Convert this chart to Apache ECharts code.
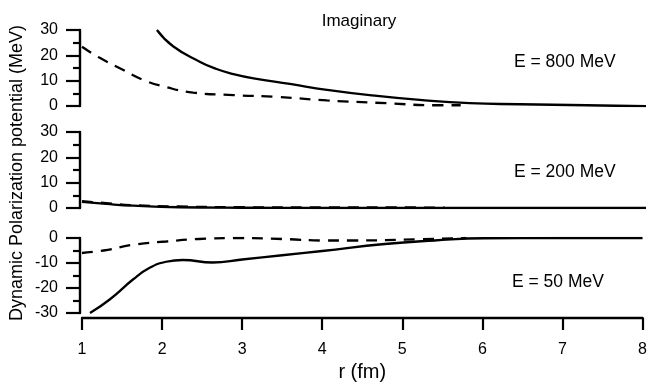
<!DOCTYPE html>
<html><head><meta charset="utf-8">
<script src="https://cdn.jsdelivr.net/npm/echarts@6/dist/echarts.min.js"></script>
<style>html,body{margin:0;padding:0;background:#fff}#c{width:650px;height:386px}</style>
</head><body><div id="c"></div>
<script>
const xTicks = [1, 2, 3, 4, 5, 6, 7, 8];
const yTicksPos = [0, 10, 20, 30];
const yTicksNeg = [-30, -20, -10, 0];

const r800Solid = [1.93, 2.13, 2.46, 2.67, 2.88, 3.13, 3.58, 4.04, 4.57, 5.19, 5.81, 6.43, 7.26, 8.0];
const v800Solid = [30, 23.6, 17.5, 14.6, 12.6, 10.9, 8.7, 6.4, 4.3, 2.4, 1.1, 0.7, 0.3, -0.1];
const r800Dash = [1.0, 1.22, 1.47, 1.76, 2.05, 2.38, 2.88, 3.42, 4.04, 4.78, 5.4, 5.7];
const v800Dash = [23.4, 19, 14.9, 10.3, 7.4, 5.3, 4.3, 3.6, 2.2, 1.1, 0.3, 0.3];

const r200Solid = [1.0, 1.3, 1.64, 2.2, 3.0, 4.0, 5.0, 6.0, 7.0, 8.0];
const v200Solid = [2.4, 1.6, 0.9, 0.3, 0.1, 0, 0, 0, 0, 0];
const r200Dash = [1.0, 1.3, 1.64, 2.2, 3.0, 4.0, 5.0, 5.5];
const v200Dash = [2.7, 1.9, 1.1, 0.6, 0.3, 0.2, 0.2, 0.1];

const r50Solid = [1.1, 1.35, 1.64, 1.84, 2.05, 2.26, 2.63, 3.0, 3.5, 4.0, 4.78, 5.4, 6.02, 7.0, 8.0];
const v50Solid = [-30, -24.5, -16.5, -12.0, -9.5, -8.8, -9.8, -8.6, -6.9, -5.2, -2.4, -1.0, -0.1, 0, 0];
const r50Dash = [1.0, 1.27, 1.64, 2.05, 2.46, 2.96, 3.5, 4.04, 4.37, 5.19, 5.8];
const v50Dash = [-6, -5, -2.7, -1.4, -0.4, 0, -0.4, -1.0, -1.0, -0.5, 0];

const FONT = 'Liberation Sans, Arial, Helvetica, sans-serif';
const zip = (a, b) => a.map((x, i) => [x, b[i]]);

function yAx(gi, ticks) {
  return {
    type: 'value', gridIndex: gi, min: ticks[0], max: ticks[ticks.length - 1], interval: 10,
    offset: 2,
    axisLine: {show: true, lineStyle: {color: '#000', width: 2.4}},
    axisTick: {show: true, length: 14, lineStyle: {color: '#000', width: 2.2}},
    minorTick: {show: true, splitNumber: 2, length: 7, lineStyle: {color: '#000', width: 2.2}},
    splitLine: {show: false},
    axisLabel: {color: '#000', fontSize: 16, fontFamily: FONT, margin: 22}
  };
}
function xAx(gi, show) {
  return {
    type: 'value', gridIndex: gi, min: xTicks[0], max: xTicks[xTicks.length - 1], interval: 1,
    show: show, offset: 5,
    axisLine: {show: true, onZero: false, lineStyle: {color: '#000', width: 2.4}},
    axisTick: {show: true, length: 12, lineStyle: {color: '#000', width: 2.2}},
    splitLine: {show: false},
    axisLabel: {color: '#000', fontSize: 16, fontFamily: FONT, margin: 24},
    name: show ? 'r (fm)' : '', nameLocation: 'middle', nameGap: 44,
    nameTextStyle: {color: '#000', fontSize: 20, fontFamily: FONT}
  };
}
function ser(gi, r, v, dashed) {
  return {
    type: 'line', xAxisIndex: gi, yAxisIndex: gi, data: zip(r, v), smooth: 0.5,
    symbol: 'none', silent: true,
    lineStyle: {color: '#000', width: 2.3, type: dashed ? [11, 8] : 'solid'}
  };
}

const chart = echarts.init(document.getElementById('c'), null, {renderer: 'canvas'});
chart.setOption({
  backgroundColor: '#fff',
  animation: false,
  grid: [
    {left: 82, right: 4, top: 30, height: 76},
    {left: 82, right: 4, top: 132, height: 76},
    {left: 82, right: 4, top: 238, height: 75}
  ],
  xAxis: [xAx(0, false), xAx(1, false), xAx(2, true)],
  yAxis: [yAx(0, yTicksPos), yAx(1, yTicksPos), yAx(2, yTicksNeg)],
  series: [
    ser(0, r800Solid, v800Solid, false), ser(0, r800Dash, v800Dash, true),
    ser(1, r200Solid, v200Solid, false), ser(1, r200Dash, v200Dash, true),
    ser(2, r50Solid, v50Solid, false), ser(2, r50Dash, v50Dash, true)
  ],
  graphic: [
    {type: 'text', x: 17, y: 173, rotation: Math.PI / 2,
     style: {text: 'Dynamic Polarization potential (MeV)', font: '18px ' + FONT, fill: '#000', align: 'center', verticalAlign: 'middle'}},
    {type: 'text', x: 359, y: 21, style: {text: 'Imaginary', font: '17px ' + FONT, fill: '#000', align: 'center', verticalAlign: 'middle'}},
    {type: 'text', x: 514, y: 62, style: {text: 'E = 800 MeV', font: '17.5px ' + FONT, fill: '#000', align: 'left', verticalAlign: 'middle'}},
    {type: 'text', x: 514, y: 172, style: {text: 'E = 200 MeV', font: '17.5px ' + FONT, fill: '#000', align: 'left', verticalAlign: 'middle'}},
    {type: 'text', x: 512, y: 282, style: {text: 'E = 50 MeV', font: '17.5px ' + FONT, fill: '#000', align: 'left', verticalAlign: 'middle'}}
  ]
});
</script></body></html>
